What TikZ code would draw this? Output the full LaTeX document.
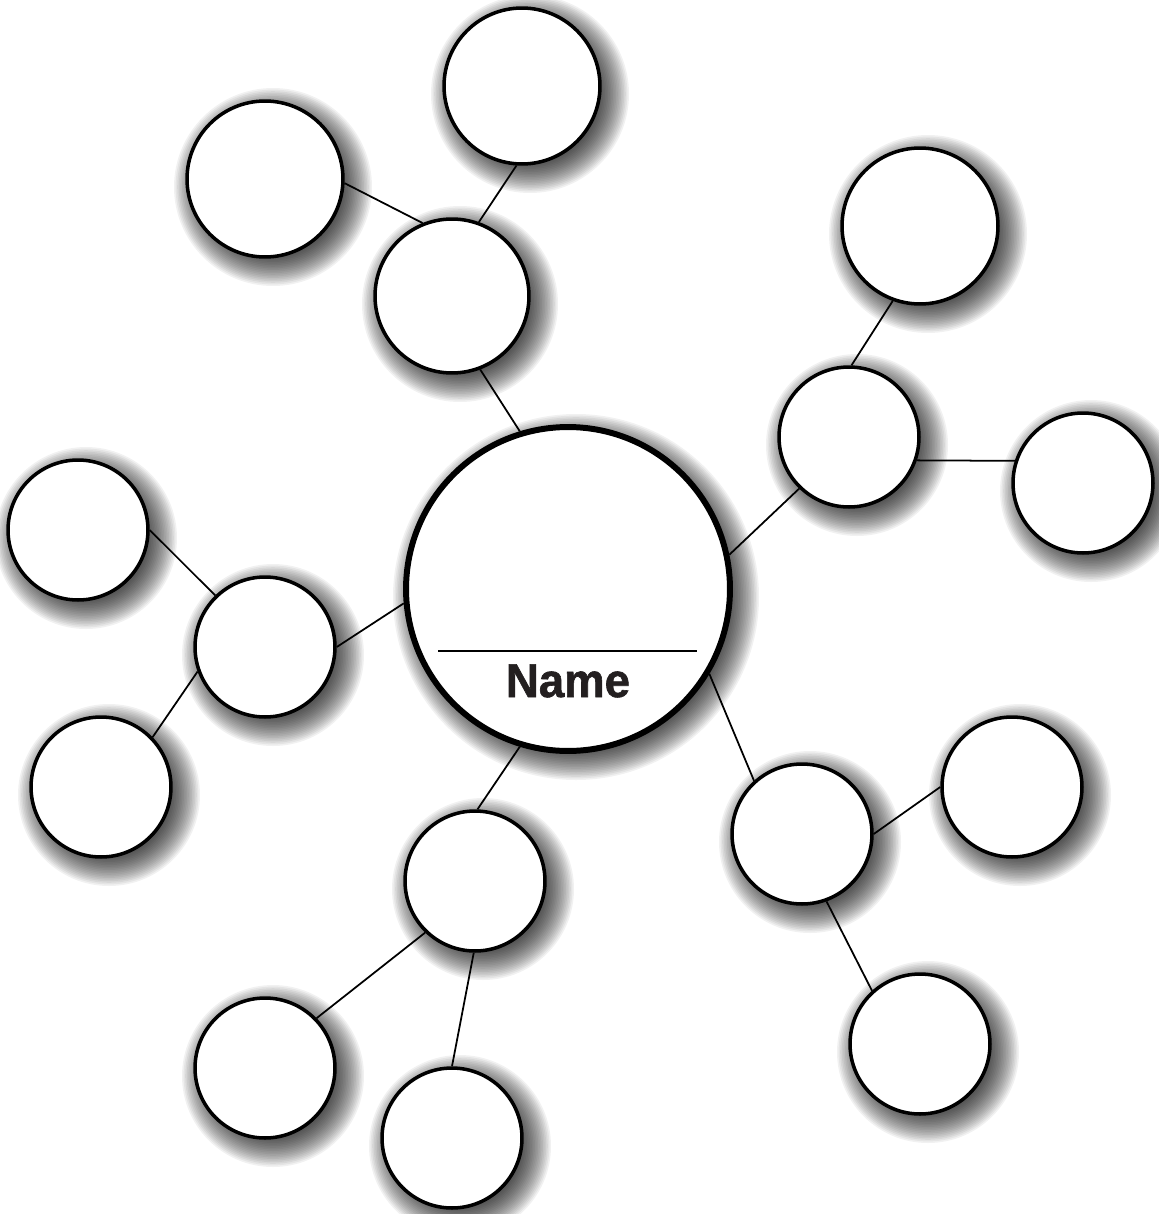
\documentclass[tikz,border=0pt]{standalone}
\usepackage{fontspec}
\newfontfamily\namefont{Liberation Sans}[BoldFeatures={FakeBold=1.3}]
\definecolor{ink}{HTML}{231F20}
\begin{document}
\begin{tikzpicture}[x=0.02cm,y=-0.02cm,
  bub/.style={circle,draw=black,fill=white,line width=2pt,inner sep=0pt},
  link/.style={line width=1pt,draw=black}]
\useasboundingbox (0,0) rectangle (1159,1214);
% soft shadows
\foreach \x/\y/\r in {568/589/162,452/296/77,265/179/78,522/86/78,849/437/70,920/226/78,1083/483/70,265/647/70,78/530/70,101/787/70,475/881/70,265/1068/70,452/1138/70,802/834/70,1012/787/70,920/1044/70}{
  \foreach \k in {0,...,19}{
    \fill[black,opacity=0.055] ({\x+8},{\y+8}) circle[radius={0.02cm*(\r+21-1.6*\k)}];
  }
}
% circles
\node[bub,minimum size=6.48cm,line width=3.4pt] (c) at (568,589) {};
\node[bub,minimum size=3.08cm] (a) at (452,296) {};
\node[bub,minimum size=3.12cm] (a1) at (265,179) {};
\node[bub,minimum size=3.12cm] (a2) at (522,86) {};
\node[bub,minimum size=2.8cm] (b) at (849,437) {};
\node[bub,minimum size=3.12cm] (b1) at (920,226) {};
\node[bub,minimum size=2.8cm] (b2) at (1083,483) {};
\node[bub,minimum size=2.8cm] (d) at (265,647) {};
\node[bub,minimum size=2.8cm] (d1) at (78,530) {};
\node[bub,minimum size=2.8cm] (d2) at (101,787) {};
\node[bub,minimum size=2.8cm] (e) at (475,881) {};
\node[bub,minimum size=2.8cm] (e1) at (265,1068) {};
\node[bub,minimum size=2.8cm] (e2) at (452,1138) {};
\node[bub,minimum size=2.8cm] (f) at (802,834) {};
\node[bub,minimum size=2.8cm] (f1) at (1012,787) {};
\node[bub,minimum size=2.8cm] (f2) at (920,1044) {};
% connectors
\draw[link] (a1.-3.7) -- (a.112.6);
\draw[link] (a.70) -- (a2.-94.3);
\draw[link] (a.-69.4) -- (c.107.8);
\draw[link] (c.12.3) -- (b.-134);
\draw[link] (b.88.4) -- (b1.-110);
\draw[link] (b.-19.2) -- (b2.162);
\draw[link] (c.-175) -- (d.0.8);
\draw[link] (d1.-0.8) -- (d.134.4);
\draw[link] (d.-160) -- (d2.44.4);
\draw[link] (c.-107.8) -- (e.88.4);
\draw[link] (e.-134.4) -- (e1.44.4);
\draw[link] (e.-91.6) -- (e2.90);
\draw[link] (c.-31.3) -- (f.132.8);
\draw[link] (f.0.8) -- (f1.180);
\draw[link] (f.-70.8) -- (f2.132.8);
% name field
\coordinate (nl) at (438,651);
\coordinate (nr) at (697,651);
\draw[line width=1.1pt] (nl) -- (nr);
\node[anchor=base,xscale=0.96,text=ink,inner sep=0pt,font=\namefont\bfseries\fontsize{27}{27}\selectfont] (name) at (568,697) {Name};
\end{tikzpicture}
\end{document}
